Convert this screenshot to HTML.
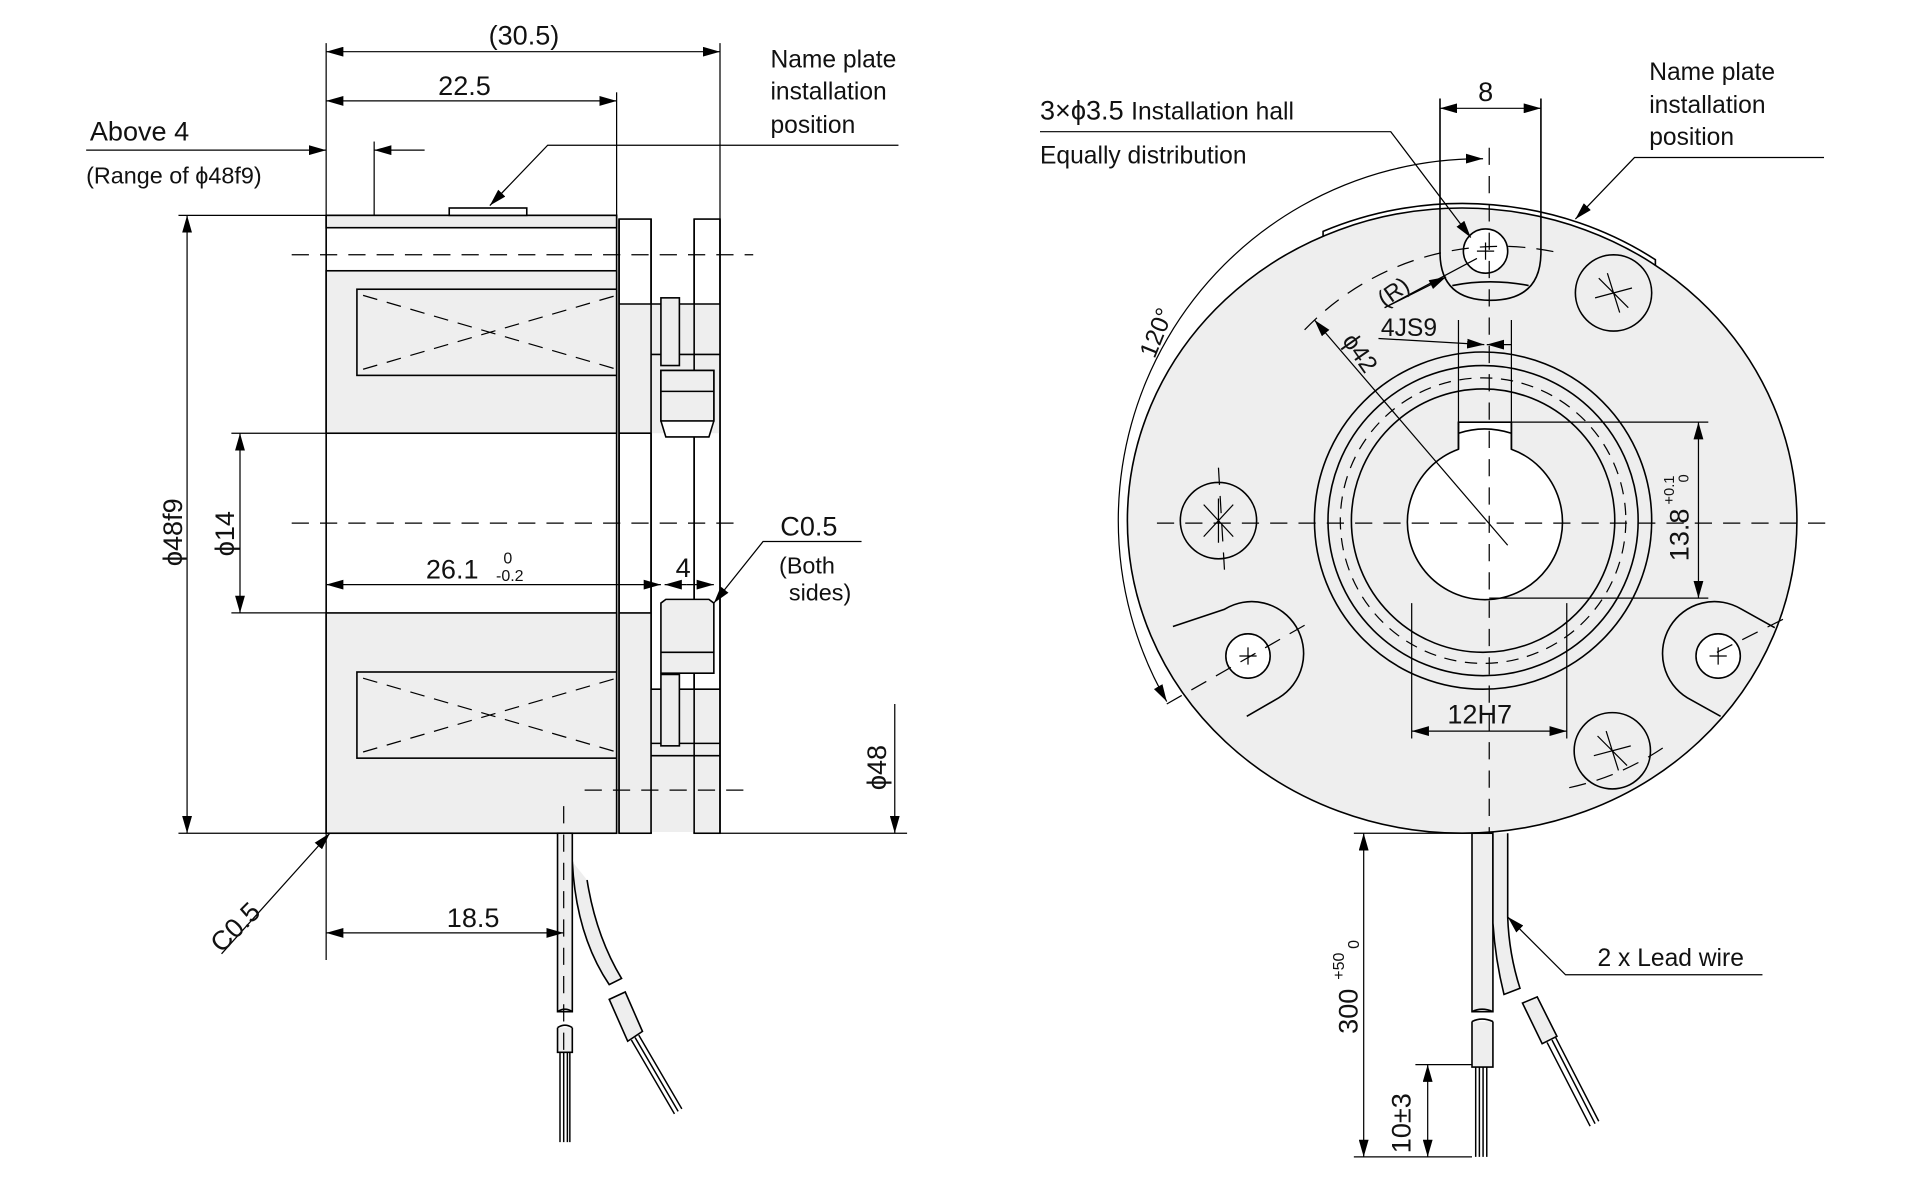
<!DOCTYPE html>
<html><head><meta charset="utf-8"><style>
html,body{margin:0;padding:0;background:#fff;}
svg{display:block;}
text{font-family:"Liberation Sans",sans-serif;fill:#111;}
</style></head><body>
<svg width="1920" height="1200" viewBox="0 0 1560 975" preserveAspectRatio="none" xmlns="http://www.w3.org/2000/svg">
<defs>
<marker id="a" viewBox="0 0 14 8" refX="14" refY="4" markerWidth="14" markerHeight="8" markerUnits="userSpaceOnUse" orient="auto-start-reverse"><path d="M0 0L14 4L0 8z" fill="#000"/></marker>
</defs>
<g stroke="#000" stroke-width="1.3" fill="none">
<rect x="265" y="175" width="236" height="502" fill="#fff"/>
<rect x="265" y="175" width="236" height="10" fill="#eee"/>
<rect x="265" y="220" width="236" height="132" fill="#eee"/>
<rect x="265" y="498" width="236" height="179" fill="#eee"/>
<rect x="290" y="235" width="211" height="70" fill="#eee"/>
<rect x="290" y="546" width="211" height="70" fill="#eee"/>
<g stroke-dasharray="12 8" stroke-width="1"><path d="M295 240L501 300M295 300L501 240M295 551L501 611M295 611L501 551"/></g>
<rect x="503" y="178" width="26" height="499" fill="#fff"/>
<rect x="564" y="178" width="21" height="499" fill="#fff"/>
<g stroke="none" fill="#eee">
<rect x="503.6" y="247" width="80.8" height="105"/>
<rect x="503.6" y="498" width="24.8" height="178"/>
<rect x="529" y="560" width="55" height="116"/>
</g>
<path d="M503 247H585M503 352H529M529 288H585M503 498H529M529 560H585M529 604H585M529 614H585"/>
<line x1="529" y1="178" x2="529" y2="677"/><line x1="564" y1="178" x2="564" y2="677"/>
<line x1="503" y1="178" x2="503" y2="677"/><line x1="585" y1="178" x2="585" y2="677"/>
<rect x="537" y="242" width="15" height="55" fill="#eee"/>
<rect x="537" y="548" width="15" height="58" fill="#eee"/>
<path d="M537 301H580V342L576 355H541L537 342Z" fill="#fff"/>
<rect x="537" y="301" width="43" height="41" fill="#eee"/>
<line x1="537" y1="318" x2="580" y2="318"/>
<path d="M537 547H580V490L576 487H541L537 490Z" fill="#eee"/>
<line x1="537" y1="530" x2="580" y2="530"/>
<rect x="365" y="169" width="63" height="6" fill="#fff"/>
<rect x="453" y="677" width="12" height="145" fill="#eee"/>
<path d="M453 835V855H465V835" fill="#eee"/>
<path d="M453 822Q459 818 465 822M453 835Q459 831 465 835"/>
<path d="M465 700Q468 760 495 800L505 795Q484 760 477 715" fill="#eee"/>
<path d="M495 812L508 806L522 838L510 846Z" fill="#eee"/>
<path d="M455 855V928M458 855V928M461 855V928M463 855V928M513 845L548 905M516 843L551 903M519 841L554 901" stroke-width="1.2"/>
<g stroke-dasharray="14 9" stroke-width="1">
<line x1="237" y1="207" x2="612" y2="207"/><line x1="237" y1="425" x2="605" y2="425"/>
<line x1="475" y1="642" x2="605" y2="642"/><line x1="458" y1="655" x2="458" y2="860"/>
</g>
<g stroke-width="1">
<line x1="265" y1="35" x2="265" y2="780"/><line x1="501" y1="75" x2="501" y2="175"/><line x1="585" y1="35" x2="585" y2="178"/>
<line x1="304" y1="115" x2="304" y2="175"/>
<line x1="145" y1="175" x2="265" y2="175"/><line x1="145" y1="677" x2="265" y2="677"/><line x1="585" y1="677" x2="737" y2="677"/>
<line x1="188" y1="352" x2="265" y2="352"/><line x1="188" y1="498" x2="265" y2="498"/>
<line x1="265" y1="42" x2="585" y2="42" marker-start="url(#a)" marker-end="url(#a)"/>
<line x1="265" y1="82" x2="501" y2="82" marker-start="url(#a)" marker-end="url(#a)"/>
<line x1="70" y1="122" x2="265" y2="122" marker-end="url(#a)"/>
<line x1="345" y1="122" x2="304" y2="122" marker-end="url(#a)"/>
<line x1="152" y1="175" x2="152" y2="677" marker-start="url(#a)" marker-end="url(#a)"/>
<line x1="195" y1="352" x2="195" y2="498" marker-start="url(#a)" marker-end="url(#a)"/>
<line x1="265" y1="475" x2="537" y2="475" marker-start="url(#a)" marker-end="url(#a)"/>
<line x1="540" y1="475" x2="558" y2="475" marker-start="url(#a)"/><line x1="558" y1="475" x2="580" y2="475" marker-end="url(#a)"/>
<line x1="727" y1="572" x2="727" y2="677" marker-end="url(#a)"/>
<line x1="265" y1="758" x2="458" y2="758" marker-start="url(#a)" marker-end="url(#a)"/>
<path d="M730 118H445L398 167" marker-end="url(#a)"/>
<path d="M700 440H620L580 490" marker-end="url(#a)"/>
<path d="M180 775L268 677" marker-end="url(#a)"/>
</g>
<ellipse cx="1188" cy="423" rx="272" ry="254" fill="#eee"/>
<path d="M1075 192V188A276 258 0 0 1 1345 211V216" fill="none"/>
<path d="M1170 80V205Q1170 244 1211 244Q1252 244 1252 205V80" fill="none"/>
<path d="M1180 232Q1211 226 1242 232" />
<ellipse cx="1207" cy="204" rx="18" ry="18" fill="#fff"/>
<circle cx="1205" cy="423" r="137"/><circle cx="1205" cy="423" r="126"/>
<circle cx="1205" cy="423" r="116" stroke-dasharray="10 7" stroke-width="1"/>
<circle cx="1205" cy="423" r="107"/>
<path d="M1185 365V343H1228V365A63 63 0 1 1 1185 365Z" fill="#fff"/>
<path d="M1185 343V365M1228 343V365M1185 352Q1206 345 1228 352"/>
<circle cx="990" cy="423" r="31"/><circle cx="1311" cy="238" r="31"/><circle cx="1310" cy="610" r="31"/>
<path d="M978 410L1002 436M978 436L1002 410M990 405V441" stroke-width="1"/>
<path d="M1299 226L1323 250M1296 242L1326 234M1306 222L1316 254" stroke-width="1"/>
<path d="M1298 598L1322 622M1295 614L1325 606M1305 594L1315 626" stroke-width="1"/>
<path d="M953 509L995 495A42 42 0 0 1 1039 567L1013 582" fill="#eee"/>
<circle cx="1014" cy="533" r="18" fill="#fff"/>
<path d="M1442 510L1415 495A42 42 0 0 0 1371 567L1398 582" fill="#eee"/>
<circle cx="1396" cy="533" r="18" fill="#fff"/>
<g stroke-width="1"><path d="M1007 533H1021M1014 526V540M1389 533H1403M1396 526V540M1200 204H1214M1207 197V211"/></g>
<g stroke-dasharray="14 9" stroke-width="1">
<line x1="940" y1="425" x2="1490" y2="425"/><line x1="1210" y1="120" x2="1210" y2="740"/>
<path d="M1060 268A220 220 0 0 1 1265 205"/>
<path d="M1275 640A220 220 0 0 0 1355 605"/>
<line x1="948" y1="572" x2="1060" y2="508"/>
<line x1="1395" y1="530" x2="1455" y2="500"/>
<line x1="990" y1="380" x2="995" y2="465"/>
</g>
<rect x="1196" y="677" width="17" height="145" fill="#eee"/>
<path d="M1196 830V867H1213V830" fill="#eee"/>
<path d="M1196 822Q1204 818 1213 822M1196 830Q1204 826 1213 830"/>
<path d="M1213 677V750Q1215 780 1222 808L1235 803Q1226 775 1225 745V677" fill="#eee"/>
<path d="M1237 815L1249 810L1265 842L1253 848Z" fill="#eee"/>
<path d="M1199 867V940M1202 867V940M1205 867V940M1208 867V940M1257 847L1292 915M1261 845L1296 913M1264 843L1299 911" stroke-width="1.2"/>
<g stroke-width="1">
<line x1="1100" y1="677" x2="1196" y2="677"/><line x1="1100" y1="940" x2="1196" y2="940"/>
<line x1="1150" y1="865" x2="1196" y2="865"/>
<line x1="1108" y1="677" x2="1108" y2="940" marker-start="url(#a)" marker-end="url(#a)"/>
<line x1="1160" y1="865" x2="1160" y2="940" marker-start="url(#a)" marker-end="url(#a)"/>
<line x1="1147" y1="490" x2="1147" y2="600"/><line x1="1273" y1="490" x2="1273" y2="600"/>
<line x1="1147" y1="594" x2="1273" y2="594" marker-start="url(#a)" marker-end="url(#a)"/>
<line x1="1228" y1="343" x2="1388" y2="343"/><line x1="1210" y1="486" x2="1388" y2="486"/>
<line x1="1380" y1="343" x2="1380" y2="486" marker-start="url(#a)" marker-end="url(#a)"/>
<line x1="1185" y1="260" x2="1185" y2="345"/><line x1="1228" y1="260" x2="1228" y2="345"/>
<line x1="1120" y1="275" x2="1206" y2="280" marker-end="url(#a)"/>
<line x1="1228" y1="280" x2="1208" y2="280" marker-end="url(#a)"/>
<line x1="1170" y1="88" x2="1252" y2="88" marker-start="url(#a)" marker-end="url(#a)"/>
<line x1="1225" y1="443" x2="1068" y2="260" marker-end="url(#a)"/>
<line x1="1125" y1="250" x2="1200" y2="210"/><line x1="1125" y1="250" x2="1175" y2="225" marker-end="url(#a)"/>
<path d="M845 107H1130L1195 193" marker-end="url(#a)"/>
<path d="M1482 128H1328L1280 178" marker-end="url(#a)"/>
<path d="M1432 792H1272L1225 745" marker-end="url(#a)"/>
<path d="M1205 129A294 294 0 0 0 948 570" marker-start="url(#a)" marker-end="url(#a)"/>
</g>
</g>
<g font-size="22">
<text x="397" y="36">(30.5)</text>
<text x="356" y="77">22.5</text>
<text x="73" y="114">Above 4</text>
<text x="70" y="149" font-size="19">(Range of ϕ48f9)</text>
<text x="626" y="55" font-size="20">Name plate</text>
<text x="626" y="81" font-size="20">installation</text>
<text x="626" y="108" font-size="20">position</text>
<text x="346" y="470">26.1</text>
<text x="409" y="458" font-size="13">0</text>
<text x="403" y="472" font-size="13">-0.2</text>
<text x="549" y="469">4</text>
<text x="634" y="435">C0.5</text>
<text x="633" y="466" font-size="19">(Both</text>
<text x="641" y="488" font-size="19">sides)</text>
<text x="363" y="753">18.5</text>
<text transform="translate(148,460) rotate(-90)">ϕ48f9</text>
<text transform="translate(190,452) rotate(-90)">ϕ14</text>
<text transform="translate(720,642) rotate(-90)">ϕ48</text>
<text transform="translate(180,775) rotate(-45)">C0.5</text>
<text x="1201" y="82">8</text>
<text x="845" y="97">3×ϕ3.5 <tspan font-size="20">Installation hall</tspan></text>
<text x="845" y="133" font-size="20">Equally distribution</text>
<text x="1340" y="65" font-size="20">Name plate</text>
<text x="1340" y="92" font-size="20">installation</text>
<text x="1340" y="118" font-size="20">position</text>
<text transform="translate(1125,250) rotate(-35)" font-size="19">(R)</text>
<text x="1122" y="273" font-size="20">4JS9</text>
<text transform="translate(1090,277) rotate(55)" font-size="20">ϕ42</text>
<text transform="translate(938,292) rotate(-68)" font-size="20">120°</text>
<text transform="translate(1372,456) rotate(-90)">13.8</text>
<text transform="translate(1360,410) rotate(-90)" font-size="12">+0.1</text>
<text transform="translate(1372,392) rotate(-90)" font-size="12">0</text>
<text x="1176" y="588">12H7</text>
<text x="1298" y="785" font-size="20">2 x Lead wire</text>
<text transform="translate(1103,840) rotate(-90)">300</text>
<text transform="translate(1092,796) rotate(-90)" font-size="13">+50</text>
<text transform="translate(1104,771) rotate(-90)" font-size="13">0</text>
<text transform="translate(1146,937) rotate(-90)">10±3</text>
</g>
</svg>
</body></html>
